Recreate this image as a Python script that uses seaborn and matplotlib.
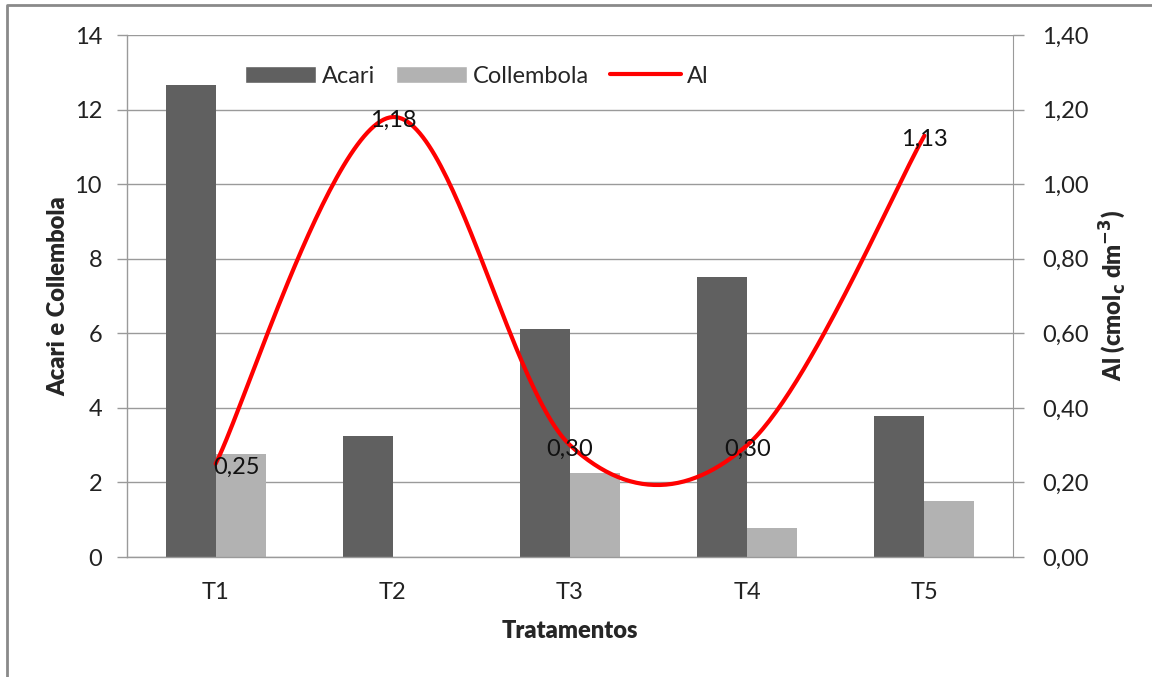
import numpy as np
import pandas as pd
import matplotlib
matplotlib.use("Agg")
import matplotlib.pyplot as plt
import seaborn as sns
from matplotlib.patches import Patch
from matplotlib.lines import Line2D
from matplotlib.ticker import FuncFormatter

# ---- data ----
tratamentos = ["T1", "T2", "T3", "T4", "T5"]
acari = [12.65, 3.25, 6.12, 7.5, 3.77]
collembola = [2.76, 0.0, 2.25, 0.78, 1.5]
al = [0.25, 1.18, 0.30, 0.30, 1.13]
left_ticks = [0, 2, 4, 6, 8, 10, 12, 14]
right_ticks = [0.0, 0.2, 0.4, 0.6, 0.8, 1.0, 1.2, 1.4]

sns.set_style("white")
plt.rcParams["font.family"] = ["Lato", "DejaVu Sans"]

FS = 17
GRID = "#9a9a9a"
C_ACARI = "#606060"
C_COLL = "#b2b2b2"

fig = plt.figure(figsize=(11.52, 6.77), dpi=100)
ax = fig.add_axes([127 / 1152, 1 - 557 / 677, (1013 - 127) / 1152, (557 - 35) / 677])

df = pd.DataFrame({
    "Tratamento": tratamentos * 2,
    "valor": acari + collembola,
    "serie": ["Acari"] * 5 + ["Collembola"] * 5,
})
sns.barplot(data=df, x="Tratamento", y="valor", hue="serie",
            palette={"Acari": C_ACARI, "Collembola": C_COLL},
            width=0.565, ax=ax, legend=False, saturation=1, linewidth=0, zorder=2)

ax.set_xlim(-0.5, 4.5)
ax.set_ylim(0, 14)
ax.set_yticks(left_ticks)
ax.yaxis.grid(True, color=GRID, lw=1.0, zorder=0)
ax.set_axisbelow(True)
ax.set_xticks(range(5))
ax.set_xticklabels(tratamentos)
ax.set_xticks(np.arange(-0.5, 5.0, 1.0), minor=True)
ax.tick_params(axis="x", which="major", length=0, pad=18, labelsize=FS, colors="#222222")
ax.tick_params(axis="x", which="minor", length=8, width=1, color=GRID, direction="out")
ax.tick_params(axis="y", length=7, width=1, color=GRID, direction="out", labelsize=FS,
               labelcolor="#222222", pad=11)
for s in ["top", "right"]:
    ax.spines[s].set_visible(False)
for s in ["left", "bottom"]:
    ax.spines[s].set_color(GRID)
    ax.spines[s].set_linewidth(1.0)
ax.set_xlabel("Tratamentos", fontsize=FS, fontweight="heavy", labelpad=12)
ax.set_ylabel("Acari e Collembola", fontsize=FS, fontweight="heavy", labelpad=4)

# ---- Al line (smoothed Catmull-Rom through the data points) ----
ax2 = ax.twinx()
ax2.set_ylim(0, 1.4)
ax2.set_yticks(right_ticks)
ax2.yaxis.set_major_formatter(FuncFormatter(lambda v, p: f"{v:.2f}".replace(".", ",")))
ax2.tick_params(axis="y", length=8, width=1, color=GRID, direction="out", labelsize=FS,
                labelcolor="#222222", pad=13)
for s in ["top", "left", "bottom"]:
    ax2.spines[s].set_visible(False)
ax2.spines["right"].set_color(GRID)

xs = np.arange(len(al), dtype=float)
ys = np.array(al, dtype=float)
px = np.concatenate([[xs[0]], xs, [xs[-1]]])
py = np.concatenate([[ys[0]], ys, [ys[-1]]])
cx, cy = [], []
t = np.linspace(0, 1, 60)
for i in range(len(xs) - 1):
    p0x, p1x, p2x, p3x = px[i], px[i + 1], px[i + 2], px[i + 3]
    p0y, p1y, p2y, p3y = py[i], py[i + 1], py[i + 2], py[i + 3]
    m1x, m2x = (p2x - p0x) / 2, (p3x - p1x) / 2
    m1y, m2y = (p2y - p0y) / 2, (p3y - p1y) / 2
    h00 = 2 * t**3 - 3 * t**2 + 1
    h10 = t**3 - 2 * t**2 + t
    h01 = -2 * t**3 + 3 * t**2
    h11 = t**3 - t**2
    cx.append(h00 * p1x + h10 * m1x + h01 * p2x + h11 * m2x)
    cy.append(h00 * p1y + h10 * m1y + h01 * p2y + h11 * m2y)
ax2.plot(np.concatenate(cx), np.concatenate(cy), color="#ff0000", lw=3.0,
         solid_capstyle="round", zorder=3)

label_dx = [0.12, 0, 0, 0, 0]
for i, v in enumerate(al):
    ax2.text(i + label_dx[i], v - 0.01, f"{v:.2f}".replace(".", ","), ha="center",
             va="center", fontsize=FS, color="#111111", zorder=4)

ax2.set_ylabel("Al (cmol$_\\mathbf{c}$ dm$^\\mathbf{-3}$)", fontsize=FS,
               fontweight="heavy", labelpad=6)
ax.set_xlim(-0.5, 4.5)
ax2.set_xlim(-0.5, 4.5)

handles = [Patch(facecolor=C_ACARI, label="Acari"),
           Patch(facecolor=C_COLL, label="Collembola"),
           Line2D([0], [0], color="#ff0000", lw=3, label="Al")]
ax2.legend(handles=handles, loc="center", bbox_to_anchor=(0.395, 0.921), ncol=3,
           frameon=False, fontsize=FS, handlelength=3.0, handleheight=0.7,
           columnspacing=0.9, handletextpad=0.25)

# outer frame
fig.add_artist(Line2D([7 / 1152, 7 / 1152, 1.0], [0.0, 1 - 5 / 677, 1 - 5 / 677],
                      transform=fig.transFigure, color="#8a8a8a", lw=2.0))

fig.savefig("out.png", dpi=100)
